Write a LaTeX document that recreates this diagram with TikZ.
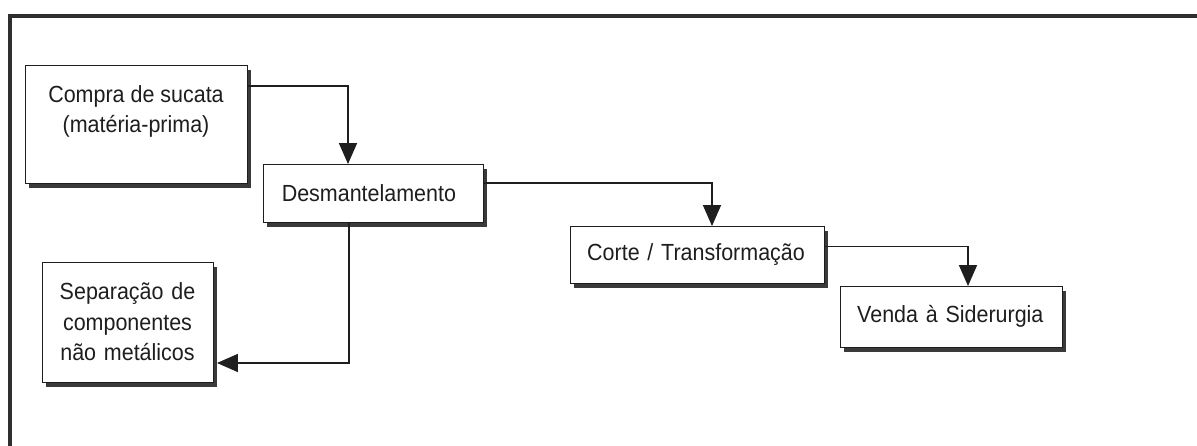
\documentclass[tikz,border=0pt]{standalone}
\usepackage{fontspec}
\setmainfont{Liberation Sans}[FakeStretch=0.92]
\usetikzlibrary{arrows.meta,shadows}
\definecolor{InkGray}{HTML}{1E1E1E}
\definecolor{ShadowGray}{HTML}{3A3A3A}
\definecolor{FrameGray}{HTML}{2E2E2E}

\begin{document}
\begin{tikzpicture}[font=\fontsize{16.6}{21.8}\selectfont,text=InkGray,
  stagebox/.style={draw=InkGray,line width=0.6pt,fill=white,anchor=north west,
    inner ysep=0pt,outer sep=0pt,
    drop shadow={shadow xshift=0.11cm,shadow yshift=-0.13cm,fill=ShadowGray,opacity=1}},
  flowarrow/.style={draw=InkGray,line width=0.8pt,-{Triangle[length=0.52cm,width=0.45cm]}}]
\useasboundingbox (0,0) rectangle (29.925,11.15);
% frame (top and left only)
\draw[FrameGray,line width=2.2pt] (0.25,0) -- (0.25,10.75) -- (29.925,10.75);
% stages
\node[stagebox,minimum width=5.55cm,minimum height=2.95cm,
      label={[anchor=north,inner sep=0pt,yshift=-0.5cm,align=center]north:Compra de sucata\\(matéria-prima)}]
      (compra) at (0.625,9.525) {};
\node[stagebox,minimum width=5.5cm,minimum height=1.45cm,text width=4.56cm,inner xsep=0.47cm,align=left]
      (desm) at (6.575,7.05) {Desmantelamento};
\node[stagebox,minimum width=6.35cm,minimum height=1.425cm,text width=5.49cm,inner xsep=0.43cm,align=left]
      (corte) at (14.25,5.5) {Corte / Transformação};
\node[stagebox,minimum width=5.55cm,minimum height=1.525cm,text width=4.69cm,inner xsep=0.43cm,align=left]
      (venda) at (21.0,4.0) {Venda à Siderurgia};
\node[stagebox,minimum width=4.275cm,minimum height=3.0cm,text width=3.875cm,inner xsep=0.2cm,align=center]
      (separa) at (1.05,4.6) {Separação de\\componentes\\não metálicos};
% flow
\draw[flowarrow] ([yshift=-0.525cm]compra.north east) -| ([xshift=-0.625cm]desm.north);
\draw[flowarrow] ([yshift=0.25cm]desm.east) -| ([xshift=0.375cm]corte.north);
\draw[flowarrow] ([yshift=0.19cm]corte.east) -| ([xshift=0.425cm]venda.north);
\draw[flowarrow] ([xshift=-0.6cm]desm.south) |- ([xshift=0.1cm,yshift=-1.025cm]separa.east);
\end{tikzpicture}
\end{document}
